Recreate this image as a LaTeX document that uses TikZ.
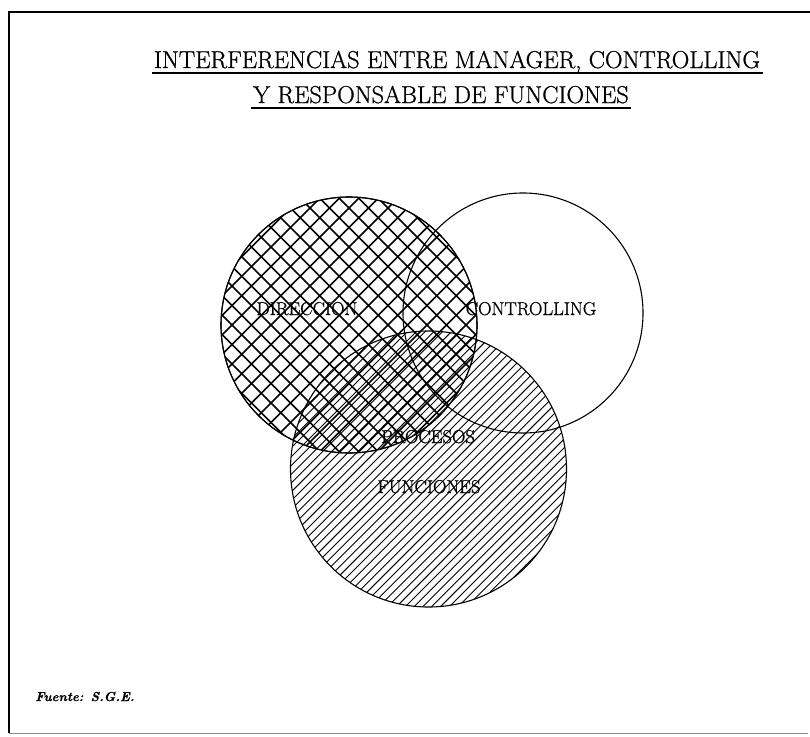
\documentclass[tikz,border=0pt]{standalone}
\usepackage{fontspec}
\newfontfamily\heavy{Latin Modern Roman}[FakeBold=0.9]
\newfontfamily\srcfam{Latin Modern Roman}[BoldItalicFeatures={FakeBold=0.7}]
\usetikzlibrary{calc}
\begin{document}
\begin{tikzpicture}[x=1pt,y=-1pt,
  venn/.style={circle, draw=black, line width=1.1pt, inner sep=0pt, minimum size=#1},
  crosshatch/.style={path picture={
    \begin{scope}[shift={(path picture bounding box.center)}]
      \foreach \k in {-11,...,11} {
        \draw[line width=1.5pt] (-200,{-200+\k*19.5}) -- (200,{200+\k*19.5});
        \draw[line width=1.5pt] (-200,{200+\k*19.5}) -- (200,{-200+\k*19.5});
      }
    \end{scope}}},
  nelines/.style={path picture={
    \begin{scope}[shift={(path picture bounding box.center)}]
      \foreach \k in {-23,...,23} {
        \draw[line width=0.9pt] (-200,{200+\k*8.8}) -- (200,{-200+\k*8.8});
      }
    \end{scope}}},
  title/.style={font=\heavy\fontsize{24.4}{28}\selectfont, inner sep=0pt, anchor=base},
  lbl/.style={font=\heavy\fontsize{18.6}{20}\selectfont, inner sep=0pt, anchor=base},
  uline/.style={line width=1.6pt},
  frame/.style={line width=2.2pt}
]
\useasboundingbox (0,0) rectangle (810,736);

% frame
\coordinate (f1) at (9,733);
\coordinate (f2) at (9,12);
\coordinate (f3) at (812,12);
\coordinate (f4) at (808,733);
\draw[frame] (f1) -- (f2) -- (f3);
\draw[line width=0.8pt, black!45] (f1) -- (f4);

% title
\node[title] (t1) at (457,68) {INTERFERENCIAS ENTRE MANAGER, CONTROLLING};
\node[title] (t2) at (441,103) {Y RESPONSABLE DE FUNCIONES};
\draw[uline] ($(t1.base west)+(-2,5)$) -- ($(t1.base east)+(3,5)$);
\draw[uline] ($(t2.base west)+(-2,5)$) -- ($(t2.base east)+(2,5)$);

% circles
\node[venn=256pt, crosshatch] (dir) at (349,325) {};
\node[venn=276pt, nelines] (proc) at (428.5,469) {};
\node[venn=240pt] (ctrl) at (523,313) {};
\node[circle, draw=black, line width=1.1pt, inner sep=0pt, minimum size=256pt] (dirO) at (349,325) {};

% labels
\node[lbl] (ldir) at (307,315) {DIRECCION};
\node[lbl] (lctrl) at (531,315) {CONTROLLING};
\node[lbl] (lproc) at (428,443) {PROCESOS};
\node[lbl] (lfun) at (429,493) {FUNCIONES};

% source
\node[font=\srcfam\fontsize{13}{15}\selectfont\bfseries\itshape, inner sep=0pt, anchor=base west] (src) at (35,701) {Fuente: S.G.E.};
\end{tikzpicture}
\end{document}
